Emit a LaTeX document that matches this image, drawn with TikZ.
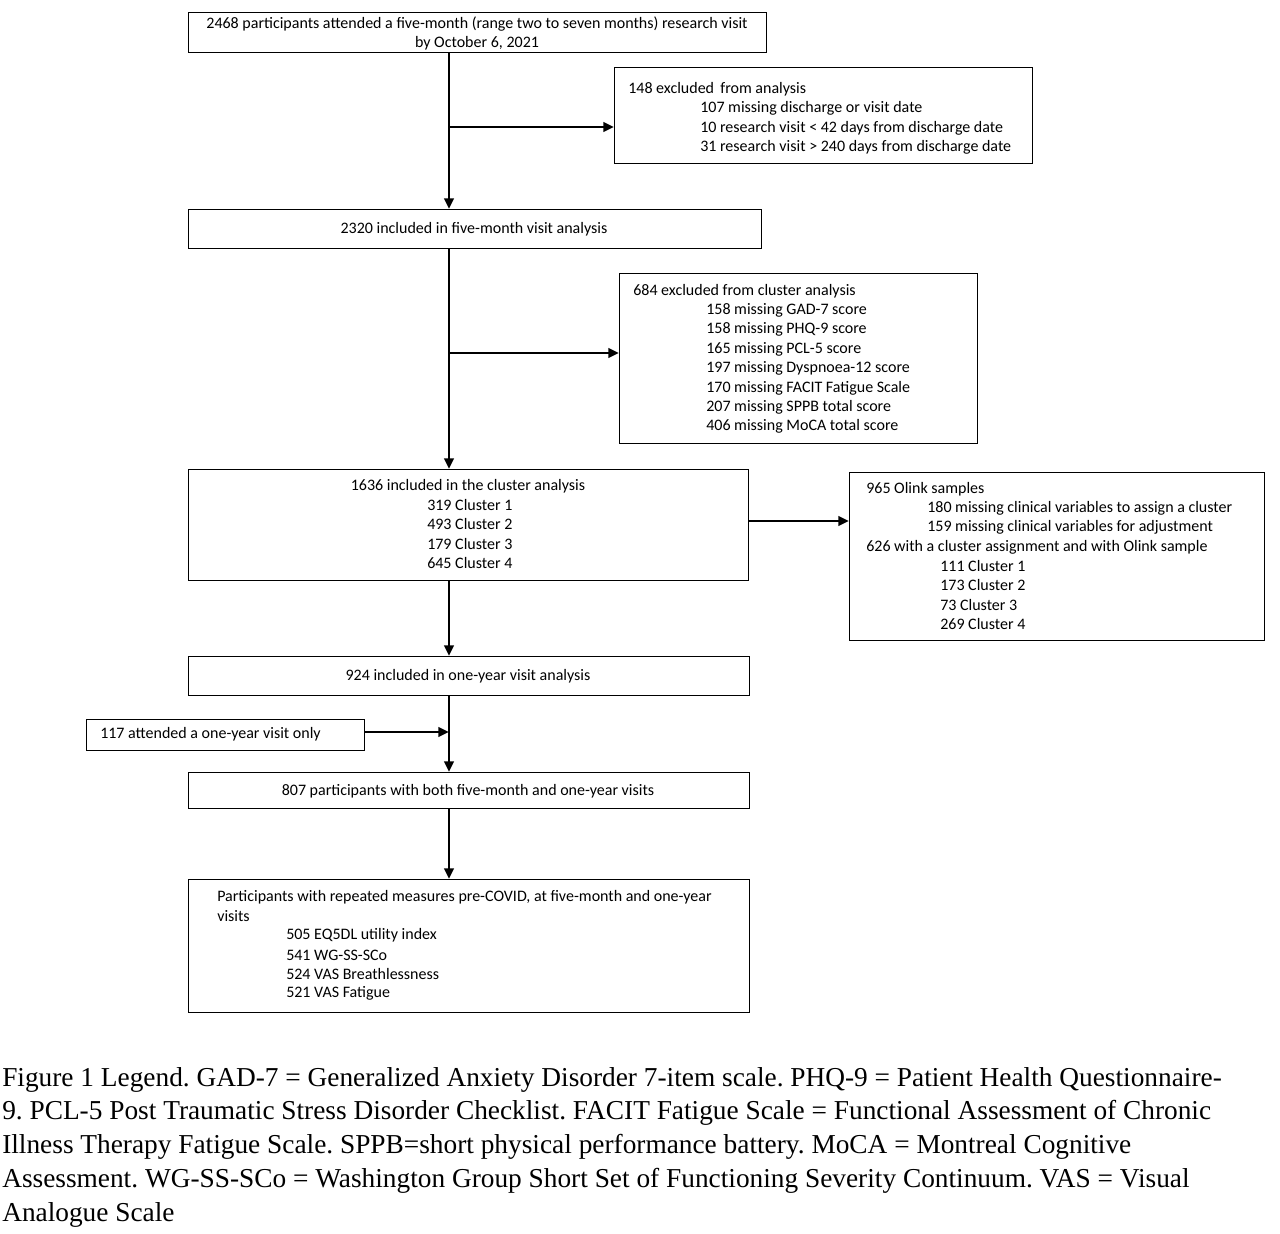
\documentclass[tikz,border=0pt]{standalone}
\usepackage{fontspec}
\setmainfont{Liberation Serif}
\newfontfamily\boxfont{Carlito}
\usetikzlibrary{positioning,arrows.meta}
\tikzset{
  box/.style={draw,line width=1pt,anchor=north west,inner sep=0pt},
  txt/.style={anchor=west,inner sep=0pt,font=\boxfont\fontsize{12}{14}\selectfont},
  ctxt/.style={inner sep=0pt,font=\boxfont\fontsize{12}{14}\selectfont},
  leg/.style={anchor=west,inner sep=0pt,font=\fontsize{20.5}{24}\selectfont},
  flow/.style={line width=2pt,-{Triangle[length=8pt,width=7pt]}},
  branch/.style={line width=2pt}
}
\begin{document}
\frenchspacing
\begin{tikzpicture}[x=0.75pt,y=-0.75pt]
\useasboundingbox (0,0) rectangle (1280,1233);
% boxes
\node[box,minimum width=578*0.75pt,minimum height=40*0.75pt] (visit) at (188,12) {};
\node[box,minimum width=418*0.75pt,minimum height=96*0.75pt] (excl) at (614,67) {};
\node[box,minimum width=573*0.75pt,minimum height=39*0.75pt] (five) at (188,209) {};
\node[box,minimum width=358*0.75pt,minimum height=170*0.75pt] (cexcl) at (619,273) {};
\node[box,minimum width=560*0.75pt,minimum height=111*0.75pt] (clus) at (188,469) {};
\node[box,minimum width=415*0.75pt,minimum height=168*0.75pt] (olink) at (849,472) {};
\node[box,minimum width=561*0.75pt,minimum height=39*0.75pt] (year) at (188,656) {};
\node[box,minimum width=278*0.75pt,minimum height=31*0.75pt] (only) at (86,719) {};
\node[box,minimum width=561*0.75pt,minimum height=36*0.75pt] (both) at (188,772) {};
\node[box,minimum width=561*0.75pt,minimum height=133*0.75pt] (rep) at (188,879) {};

% texts
\node[ctxt] (t1a) at (477,24) {2468 participants attended a five-month (range two to seven months) research visit};
\node[ctxt] (t1b) at (477,43) {by October 6, 2021};
\node[txt] (t2) at (628,89) {148 excluded\, from analysis};
\foreach \y/\s in {108/107 missing discharge or visit date, 128/10 research visit < 42 days from discharge date, 147/31 research visit > 240 days from discharge date}
  \node[txt] at (700,\y) {\s};
\node[ctxt] (t3) at (474,229) {2320 included in five-month visit analysis};
\node[txt] (t4) at (633,291) {684 excluded from cluster analysis};
\foreach \y/\s in {310/158 missing GAD-7 score, 329/158 missing PHQ-9 score, 349/165 missing PCL-5 score, 368/197 missing Dyspnoea-12 score, 388/170 missing FACIT Fatigue Scale, 407/207 missing SPPB total score, 426/406 missing MoCA total score}
  \node[txt] at (706,\y) {\s};
\node[ctxt] (t5) at (468,486) {1636 included in the cluster analysis};
\foreach \y/\s in {505/319 Cluster 1, 524/493 Cluster 2, 544/179 Cluster 3, 563/645 Cluster 4}
  \node[txt] at (427,\y) {\s};
\node[txt] (t6) at (866,489) {965 Olink samples};
\foreach \y/\s in {508/180 missing clinical variables to assign a cluster, 527/159 missing clinical variables for adjustment}
  \node[txt] at (927,\y) {\s};
\node[txt] (t6b) at (866,547) {626 with a cluster assignment and with Olink sample};
\foreach \y/\s in {566/111 Cluster 1, 585/173 Cluster 2, 605/73 Cluster 3, 624/269 Cluster 4}
  \node[txt] at (940,\y) {\s};
\node[ctxt] (t7) at (468,676) {924 included in one-year visit analysis};
\node[txt] (t8) at (100,734) {117 attended a one-year visit only};
\node[ctxt] (t9) at (468,791) {807 participants with both five-month and one-year visits};
\node[txt] (t10a) at (217,897) {Participants with repeated measures pre-COVID, at five-month and one-year};
\node[txt] (t10b) at (217,916) {visits};
\foreach \y/\s in {935/505 EQ5DL utility index, 955/541 WG-SS-SCo, 974/524 VAS Breathlessness, 993/521 VAS Fatigue}
  \node[txt] at (286,\y) {\s};

% connectors
\coordinate (j1) at (449,127);
\coordinate (j2) at (449,353);
\coordinate (j3) at (449,732);
\draw[flow] (visit.south -| j1) -- (five.north -| j1);
\draw[flow] (j1) -- (excl.west |- j1);
\draw[flow] (five.south -| j2) -- (clus.north -| j2);
\draw[flow] (j2) -- (cexcl.west |- j2);
\draw[flow] (clus.east |- 0,521) -- (olink.west |- 0,521);
\draw[flow] (clus.south -| j2) -- (year.north -| j2);
\draw[flow] (year.south -| j3) -- (both.north -| j3);
\draw[flow] (only.east |- j3) -- (j3);
\draw[flow] (both.south -| j3) -- (rep.north -| j3);

% legend
\node[leg] (l1) at (2,1080) {Figure 1 Legend. GAD-7 = Generalized Anxiety Disorder 7-item scale. PHQ-9 = Patient Health Questionnaire-};
\node[leg] (l2) at (2,1113) {9. PCL-5 Post Traumatic Stress Disorder Checklist. FACIT Fatigue Scale = Functional Assessment of Chronic};
\node[leg] (l3) at (2,1147) {Illness Therapy Fatigue Scale. SPPB=short physical performance battery. MoCA = Montreal Cognitive};
\node[leg] (l4) at (2,1181) {Assessment. WG-SS-SCo = Washington Group Short Set of Functioning Severity Continuum. VAS = Visual};
\node[leg] (l5) at (2,1215) {Analogue Scale};
\end{tikzpicture}
\end{document}
